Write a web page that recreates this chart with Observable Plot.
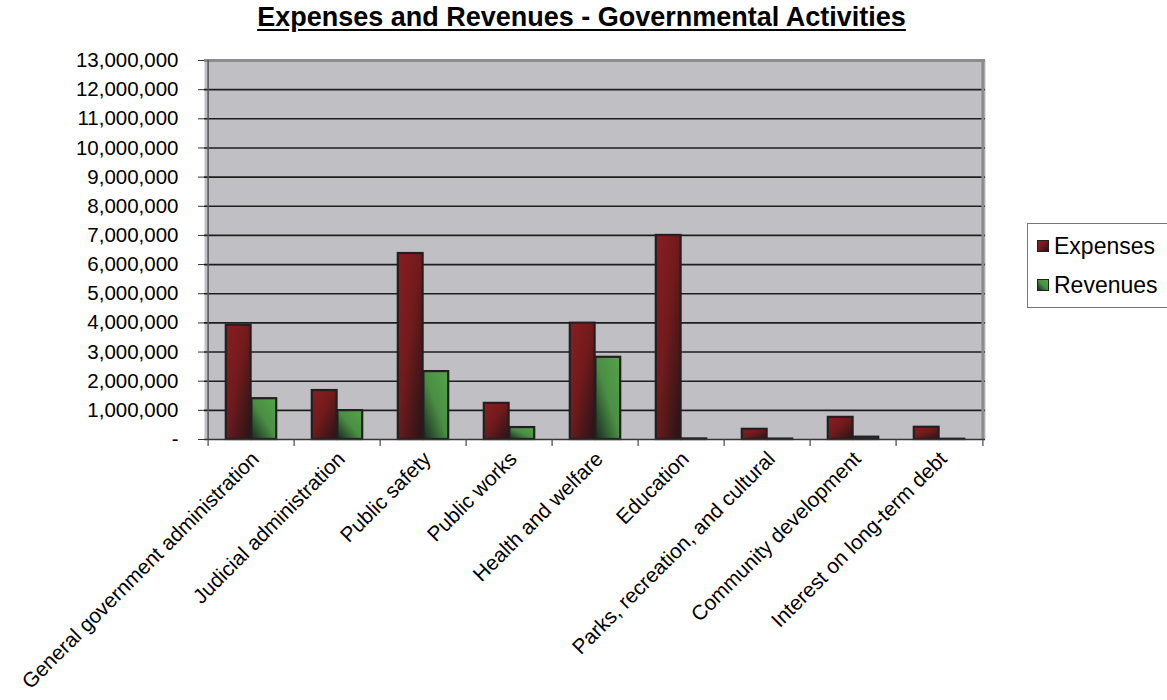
<!DOCTYPE html>
<html>
<head>
<meta charset="utf-8">
<script src="https://cdn.jsdelivr.net/npm/d3@7"></script>
<script src="https://cdn.jsdelivr.net/npm/@observablehq/plot@0.6"></script>
<style>
  body { margin: 0; background: #fff; font-family: "Liberation Sans", Arial, sans-serif; }
  #wrap { position: relative; width: 1167px; height: 700px; overflow: hidden; }
  #title { position: absolute; left: 0; top: 2px; width: 1163px; text-align: center; font-weight: bold; font-size: 27px; text-decoration: underline; text-underline-offset: 3px; color: #000; }
  #chart { position: absolute; left: 0; top: 0; }
  #legend { position: absolute; left: 1027px; top: 223px; width: 160px; height: 85px; border: 1px solid #777; box-sizing: border-box; background: #fff; }
  .item { position: absolute; left: 9px; font-size: 23px; line-height: 26px; display: flex; align-items: center; }
  .sw { width: 12px; height: 12px; border: 1.5px solid #231f20; margin-right: 5px; box-sizing: border-box; }
</style>
</head>
<body>
<div id="wrap">
  <div id="title">Expenses and Revenues - Governmental Activities</div>
  <div id="chart"></div>
  <div id="legend"></div>
</div>
<script>
const categories = [
  "General government administration",
  "Judicial administration",
  "Public safety",
  "Public works",
  "Health and welfare",
  "Education",
  "Parks, recreation, and cultural",
  "Community development",
  "Interest on long-term debt"
];
const expenses = [3920000, 1680000, 6380000, 1240000, 3990000, 7000000, 350000, 760000, 420000];
const revenues = [1400000, 990000, 2330000, 410000, 2820000, 20000, 15000, 80000, 10000];
const seriesNames = ["Expenses", "Revenues"];
const yTicks = [0, 1000000, 2000000, 3000000, 4000000, 5000000, 6000000, 7000000, 8000000, 9000000, 10000000, 11000000, 12000000, 13000000];
const yTickLabels = ["-", "1,000,000", "2,000,000", "3,000,000", "4,000,000", "5,000,000", "6,000,000", "7,000,000", "8,000,000", "9,000,000", "10,000,000", "11,000,000", "12,000,000", "13,000,000"];

const W = 1167, H = 700, mL = 204, mR = 182, mT = 60, mB = 261;
const step = (W - mL - mR) / categories.length;
const groupW = step * 0.59;
const outer = (step - groupW) / 2;

const expRows = categories.map((c, i) => ({category: c, series: seriesNames[0], value: expenses[i]}));
const revRows = categories.map((c, i) => ({category: c, series: seriesNames[1], value: revenues[i]}));

const defs = () => {
  const ns = "http://www.w3.org/2000/svg";
  const d = document.createElementNS(ns, "defs");
  d.innerHTML = `
    <linearGradient id="gExp" x1="0" y1="0" x2="1" y2="1">
      <stop offset="0" stop-color="#8a1d1f"/>
      <stop offset="0.45" stop-color="#721b1c"/>
      <stop offset="1" stop-color="#241416"/>
    </linearGradient>
    <linearGradient id="gRev" x1="1" y1="0" x2="0" y2="1">
      <stop offset="0" stop-color="#56a34b"/>
      <stop offset="0.5" stop-color="#4a8e43"/>
      <stop offset="1" stop-color="#17291f"/>
    </linearGradient>`;
  return d;
};

const chart = Plot.plot({
  width: W, height: H,
  marginLeft: mL, marginRight: mR, marginTop: mT, marginBottom: mB,
  style: {fontFamily: "'Liberation Sans', Arial, sans-serif", fontSize: "20px", color: "#000", background: "transparent", overflow: "visible"},
  x: {domain: categories, padding: 0, label: null},
  y: {domain: [0, 13000000], label: null},
  marks: [
    defs,
    Plot.frame({fill: "#c0c0c4", stroke: null}),
    Plot.ruleY(yTicks.slice(1, -1), {stroke: "#1e1e1e", strokeWidth: 1.6}),
    Plot.barY(expRows, {x: "category", y: "value", fill: "url(#gExp)", stroke: "#231f20", strokeWidth: 2.2, insetLeft: outer, insetRight: step / 2}),
    Plot.barY(revRows, {x: "category", y: "value", fill: "url(#gRev)", stroke: "#231f20", strokeWidth: 2.2, insetLeft: step / 2, insetRight: outer}),
    Plot.ruleY([13000000], {stroke: "#8c8c8c", strokeWidth: 3}),
    Plot.ruleX([categories[categories.length - 1]], {stroke: "#8c8c8c", strokeWidth: 3, dx: step / 2}),
    Plot.ruleX([categories[0]], {stroke: "#555", strokeWidth: 1.5, dx: -step / 2}),
    Plot.ruleY([0], {stroke: "#333", strokeWidth: 1.5}),
    Plot.ruleX(categories, {x: d => d, y1: 0, y2: 0, dx: -step / 2, insetBottom: -7, stroke: "#444", strokeWidth: 1.2}),
    Plot.ruleX([categories[categories.length - 1]], {x: d => d, y1: 0, y2: 0, dx: step / 2, insetBottom: -7, stroke: "#444", strokeWidth: 1.2}),
    Plot.axisY({ticks: yTicks, tickSize: 6, tickPadding: 20, tickFormat: d => yTickLabels[yTicks.indexOf(d)], fontSize: 20.5, stroke: "#333", label: null}),
    Plot.axisX({tickSize: 0, tickRotate: -45, tickPadding: 16, dx: 4, fontSize: 20.8, label: null})
  ]
});
document.getElementById("chart").appendChild(chart);

const legend = document.getElementById("legend");
const grads = ["linear-gradient(135deg,#8a1d1f,#721b1c 45%,#241416)", "linear-gradient(225deg,#56a34b,#4a8e43 50%,#17291f)"];
seriesNames.forEach((s, i) => {
  const it = document.createElement("div");
  it.className = "item";
  it.style.top = (i === 0 ? 9 : 48) + "px";
  it.innerHTML = `<span class="sw" style="background:${grads[i]}"></span><span>${s}</span>`;
  legend.appendChild(it);
});
</script>
</body>
</html>
